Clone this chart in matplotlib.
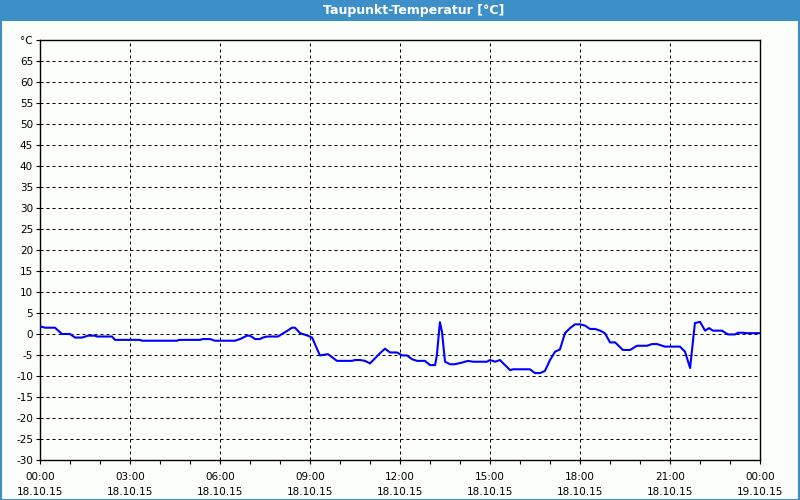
import matplotlib
matplotlib.use("Agg")
import matplotlib.pyplot as plt
from matplotlib.patches import Rectangle
from matplotlib.ticker import MultipleLocator

plt.rcParams['axes.unicode_minus'] = False

title = "Taupunkt-Temperatur [°C]"

hours = [0.0, 0.17, 0.5, 0.73, 1.0, 1.17, 1.4, 1.6, 1.83, 1.9, 2.4, 2.5, 3.33, 3.4,
         4.57, 4.63, 5.33, 5.43, 5.67, 5.83, 6.5, 6.67, 6.9, 7.0, 7.17, 7.33, 7.43,
         7.57, 7.93, 8.23, 8.4, 8.5, 8.67, 8.93, 9.07, 9.33, 9.6, 9.9, 10.4, 10.5,
         10.67, 10.83, 11.0, 11.33, 11.5, 11.67, 11.9, 12.07, 12.23, 12.4, 12.57,
         12.83, 13.0, 13.17, 13.23, 13.33, 13.4, 13.5, 13.67, 13.83, 14.07, 14.27,
         14.43, 14.9, 15.0, 15.17, 15.33, 15.67, 15.77, 16.33, 16.5, 16.67, 16.83,
         17.0, 17.17, 17.33, 17.5, 17.67, 17.83, 18.0, 18.17, 18.33, 18.5, 18.67,
         18.83, 19.0, 19.17, 19.43, 19.67, 19.9, 20.23, 20.4, 20.57, 20.83, 21.33,
         21.5, 21.67, 21.83, 22.0, 22.17, 22.3, 22.43, 22.73, 22.93, 23.17, 23.27,
         23.43, 23.57, 24.0]
dewpoint = [1.8, 1.5, 1.5, 0.0, 0.0, -0.85, -0.85, -0.4, -0.4, -0.6, -0.6, -1.4, -1.4, -1.6,
            -1.6, -1.4, -1.4, -1.2, -1.2, -1.6, -1.6, -1.2, -0.4, -0.4, -1.2, -1.2, -0.85,
            -0.6, -0.6, 0.7, 1.5, 1.5, 0.2, -0.4, -0.85, -5.1, -4.8, -6.4, -6.4, -6.2,
            -6.2, -6.4, -7.0, -4.6, -3.5, -4.4, -4.4, -5.1, -5.1, -6.0, -6.4,
            -6.4, -7.4, -7.4, -5.0, 2.8, 0.5, -6.6, -7.2, -7.2, -6.8, -6.4,
            -6.6, -6.6, -6.2, -6.6, -6.2, -8.6, -8.4, -8.4, -9.3, -9.3, -8.8,
            -6.2, -4.2, -3.7, 0.2, 1.4, 2.3, 2.3, 2.0, 1.2, 1.2, 0.8,
            0.2, -2.0, -2.0, -3.8, -3.8, -2.8, -2.8, -2.4, -2.4, -3.0, -3.0,
            -4.2, -8.1, 2.6, 2.9, 0.8, 1.4, 0.8, 0.8, -0.1, -0.1, 0.3,
            0.3, 0.2, 0.2]

x_ticks = [0, 3, 6, 9, 12, 15, 18, 21, 24]
x_labels = ["00:00\n18.10.15", "03:00\n18.10.15", "06:00\n18.10.15", "09:00\n18.10.15",
            "12:00\n18.10.15", "15:00\n18.10.15", "18:00\n18.10.15", "21:00\n18.10.15",
            "00:00\n19.10.15"]
y_ticks = list(range(-30, 75, 5))
y_labels = [str(v) for v in range(-30, 70, 5)] + ["°C"]

BLUE = "#3d90c7"
BG = "#fcfefc"

fig = plt.figure(figsize=(8, 5), dpi=100, facecolor=BG)
fig.patches.append(Rectangle((0, 1 - 21/500), 1, 21/500, transform=fig.transFigure,
                             facecolor=BLUE, edgecolor="none", zorder=0))
fig.patches.append(Rectangle((0.5/800, 0.5/500), 1 - 1.5/800, 1 - 1/500, transform=fig.transFigure,
                             facecolor="none", edgecolor=BLUE, linewidth=1.5, zorder=1))
fig.text(414/800, 1 - 10.5/500, title, color="white", fontsize=9, fontweight="bold",
         ha="center", va="center", family="DejaVu Sans")

ax = fig.add_axes([40/800, 40/500, 720/800, 420/500])
ax.set_facecolor(BG)
ax.plot(hours, dewpoint, color="#0000ff", linewidth=1.5, zorder=3)

ax.set_xlim(0, 24)
ax.set_ylim(-30, 70)
ax.set_xticks(x_ticks)
ax.set_xticklabels(x_labels, fontsize=7.5, linespacing=1.6)
ax.xaxis.set_minor_locator(MultipleLocator(1))
ax.set_yticks(y_ticks)
ax.set_yticklabels(y_labels, fontsize=7.5)

for s in ax.spines.values():
    s.set_linewidth(1.0)
    s.set_color("black")
ax.tick_params(axis="both", which="both", direction="out", length=3, width=0.8,
               color="black", labelcolor="black")
ax.tick_params(axis="x", pad=6)
ax.tick_params(axis="y", pad=2)

gl = dict(color="black", linewidth=0.72, linestyle=(0, (3, 3)), zorder=1)
for xv in x_ticks[1:-1]:
    ax.axvline(xv, **gl)
for yv in y_ticks[1:-1]:
    ax.axhline(yv, **gl)

fig.savefig("out.png", dpi=100, facecolor=BG)
